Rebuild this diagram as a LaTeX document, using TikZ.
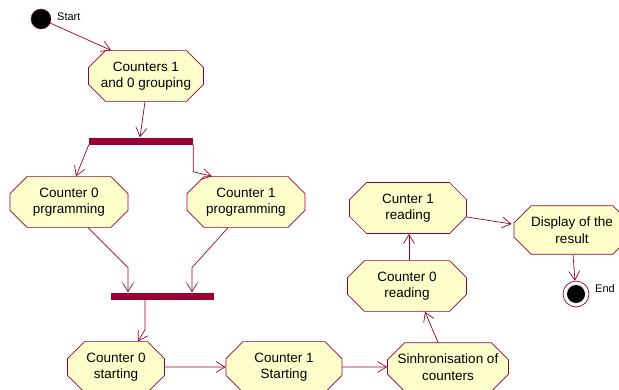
\documentclass[tikz,border=0pt]{standalone}
\usepackage{fontspec}
\setmainfont{Liberation Sans}
\usetikzlibrary{arrows.meta}
\usetikzlibrary{shapes.misc}
\definecolor{umlred}{RGB}{153,0,51}
\definecolor{umlfill}{RGB}{255,255,204}

\begin{document}
\begin{tikzpicture}[x=1pt,y=-1pt,
    act/.style = {draw=umlred, fill=umlfill, line width=0.7pt, chamfered rectangle, chamfered rectangle xsep=6pt, chamfered rectangle ysep=11pt, inner sep=0pt, align=center, font=\fontsize{13.5}{16.5}\selectfont},
    bar/.style = {fill=umlred, inner sep=0pt, minimum height=7pt},
    flow/.style = {draw=umlred, line width=0.7pt, -{Straight Barb[length=9pt,width=11pt]}},
    lbl/.style = {anchor=west, inner sep=0pt, font=\fontsize{11}{13}\selectfont}]
    \useasboundingbox (0,0) rectangle (619,389);
    % start and end
    \node[circle, draw=umlred, fill=black, minimum size=20pt, inner sep=0pt] (start) at (41,19) {};
    \node[lbl] (startlbl) at (57,17) {Start};
    \node[circle, draw=umlred, fill=white, line width=0.7pt, minimum size=26pt, inner sep=0pt] (end) at (576,294) {};
    \node[circle, fill=black, minimum size=18pt, inner sep=0pt] (endin) at (576,294) {};
    \node[lbl] (endlbl) at (595,289) {End};
    % activities
    \begin{scope}[every node/.style={act}]
        \node[minimum width=115pt, minimum height=36pt] (group) at (146,76) {Counters 1\\and 0 grouping};
        \node[minimum width=118pt, minimum height=39pt] (c0prog) at (69,202) {Counter 0\\prgramming};
        \node[minimum width=118pt, minimum height=39pt] (c1prog) at (246,202) {Counter 1\\programming};
        \node[minimum width=97pt, minimum height=37pt] (c0start) at (116,367) {Counter 0\\starting};
        \node[minimum width=116pt, minimum height=37pt] (c1start) at (284,367) {Counter 1\\Starting};
        \node[minimum width=121pt, minimum height=42pt] (sync) at (448,367) {Sinhronisation of\\counters};
        \node[minimum width=119pt, minimum height=48pt] (c0read) at (407,286) {Counter 0\\reading};
        \node[minimum width=117pt, minimum height=51pt] (c1read) at (408,208) {Cunter 1\\reading};
        \node[minimum width=116pt, minimum height=35pt] (show) at (572,230) {Display of the\\result};
    \end{scope}
    % fork and join
    \node[bar, minimum width=104pt] (fork) at (141,141) {};
    \node[bar, minimum width=103pt] (join) at (162,296) {};
    % transitions
    \draw[flow] (start) -- ([xshift=-35pt]group.north);
    \draw[flow] ([xshift=-1pt]group.south) -- ([xshift=-1pt]fork.north);
    \draw[flow] (fork.south west) -- ([xshift=7pt]c0prog.north);
    \draw[flow] (fork.south east) -- ++(0,27) -- ([xshift=-34pt]c1prog.north);
    \draw[flow] ([xshift=19pt]c0prog.south) -- ++(40,40) coordinate (p) -- (p |- join.north);
    \draw[flow] ([xshift=-18pt]c1prog.south) -- ++(-36,40) coordinate (q) -- (q |- join.north);
    \draw[flow] ([xshift=-17pt]join.south) -- ++(0,30) -- ([xshift=22pt]c0start.north);
    \draw[flow] (c0start) -- (c1start);
    \draw[flow] (c1start) -- (sync);
    \draw[flow] ([xshift=-10pt]sync.north) -- ([xshift=18pt]c0read.south);
    \draw[flow] ([xshift=2pt]c0read.north) -- ([xshift=1pt]c1read.south);
    \draw[flow] ([yshift=-9pt]c1read.east) -- ([yshift=6pt,xshift=-2pt]show.west);
    \draw[flow] ([xshift=1pt]show.south) -- (end);
\end{tikzpicture}
\end{document}
